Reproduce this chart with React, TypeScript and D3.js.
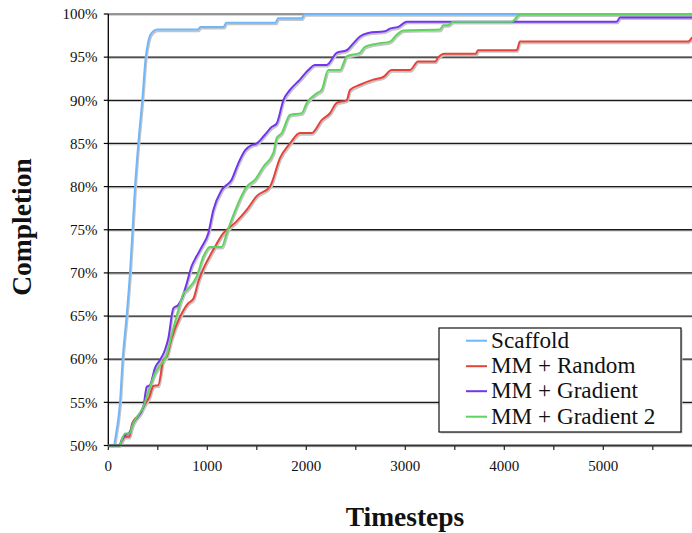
import React from "react";
import * as d3 from "d3";

const seriesNames = ["Scaffold", "MM + Random", "MM + Gradient", "MM + Gradient 2"];
const seriesColors = ["#6fb7fa", "#e5433a", "#7234ef", "#5ed35e"];

const scaffold: [number, number][] = [
  [0, 50], [55, 50], [80, 51.5], [100, 53], [118, 55], [145, 60], [185, 65], [219, 70], [245, 75],
  [270, 80], [303, 85], [343, 90], [378, 95], [400, 96.6], [421, 97.5], [455, 98], [495, 98.2],
  [905, 98.2], [930, 98.5], [1165, 98.5], [1190, 99.0], [1690, 99.0], [1715, 99.5], [1955, 99.5],
  [1980, 99.97], [5900, 99.97],
];

const mmRandom: [number, number][] = [
  [0, 50], [110, 50], [140, 50.6], [169, 51], [212, 51], [242, 52.6], [320, 53.7], [371, 54.8],
  [414, 55.6], [455, 56.9], [505, 57], [556, 59.9], [590, 60.3], [640, 62.4], [724, 64.9], [808, 66.5],
  [859, 67], [909, 69], [960, 70.5], [1027, 72], [1061, 72.7], [1162, 74.6], [1280, 75.8], [1398, 77.3],
  [1499, 78.9], [1633, 80.0], [1734, 83.3], [1835, 85.0], [1936, 86.2], [2054, 86.2], [2155, 87.7],
  [2239, 88.5], [2307, 89.7], [2408, 90.0], [2441, 91.2], [2542, 91.8], [2677, 92.4], [2778, 92.7],
  [2862, 93.5], [3047, 93.5], [3128, 94.5], [3306, 94.5], [3326, 94.9], [3397, 95.4], [3713, 95.4],
  [3734, 95.8], [4125, 95.8], [4158, 96.8], [5856, 96.8], [5896, 97.3],
];

const mmGradient: [number, number][] = [
  [0, 50], [110, 50], [140, 50.8], [169, 51.2], [212, 51.5], [253, 52.6], [354, 54.5], [388, 56.8],
  [421, 57], [472, 59], [522, 59.9], [573, 61.1], [606, 62.4], [657, 65.9], [707, 66.3], [758, 67.5],
  [792, 68.8], [842, 70.8], [876, 71.6], [943, 73.0], [1010, 74.6], [1061, 77.3], [1145, 79.6],
  [1246, 80.8], [1313, 82.7], [1381, 84.2], [1448, 84.8], [1500, 85.0], [1566, 85.8], [1650, 86.9],
  [1700, 87.3], [1768, 90.0], [1835, 91.2], [1936, 92.4], [2020, 93.5], [2088, 94.1], [2206, 94.1],
  [2307, 95.5], [2408, 95.8], [2475, 96.6], [2542, 97.4], [2626, 97.8], [2794, 98.0], [2845, 98.3],
  [2929, 98.5], [3014, 99.1], [5135, 99.1], [5169, 99.6], [5900, 99.6],
];

const mmGradient2: [number, number][] = [
  [0, 50], [108, 50], [169, 51.4], [212, 51.4], [253, 52.6], [354, 54.5], [421, 56.8], [472, 58.4],
  [539, 59.5], [590, 60.5], [640, 62.8], [707, 65.7], [758, 67.6], [792, 68], [893, 69.6], [960, 71.9],
  [1027, 73.0], [1145, 73.0], [1196, 74.6], [1263, 76.7], [1398, 80], [1482, 80.8], [1566, 82.3],
  [1667, 83.9], [1700, 85.6], [1751, 86.2], [1835, 88.3], [1953, 88.5], [2004, 89.7], [2105, 90.8],
  [2155, 91.2], [2222, 93.5], [2340, 93.5], [2408, 95.1], [2542, 95.5], [2593, 96.2], [2744, 96.6],
  [2845, 96.8], [2913, 97.6], [2980, 98.1], [3350, 98.2], [3383, 98.7], [3430, 98.7], [3484, 99.1],
  [4074, 99.1], [4158, 99.95], [5900, 99.95],
];

const allSeries = [scaffold, mmRandom, mmGradient, mmGradient2];
const yTicks = [50, 55, 60, 65, 70, 75, 80, 85, 90, 95, 100];
const xLabelTicks = [0, 1000, 2000, 3000, 4000, 5000];
const xMinorTicks = [0, 500, 1000, 1500, 2000, 2500, 3000, 3500, 4000, 4500, 5000, 5500];

const W = 692;
const H = 533;
const L = 108.3;
const R = 692.4;
const T = 14;
const B = 445.5;

export default function App() {
  const x = d3.scaleLinear().domain([0, 5900]).range([L, R]);
  const y = d3.scaleLinear().domain([50, 100]).range([B, T]);
  const line = d3
    .line<[number, number]>()
    .x((d) => x(d[0]))
    .y((d) => y(d[1]))
    .curve(d3.curveMonotoneX);

  const serif = "'Liberation Serif', 'Times New Roman', serif";
  const legX = 439;
  const legY = 328;
  const legRows = [340.7, 366.2, 391.2, 416.7];

  return (
    <svg
      width={W}
      height={H}
      style={{ position: "absolute", left: 0, top: 0, background: "#fff" }}
      fontFamily={serif}
    >
      <defs>
        <clipPath id="plot">
          <rect x={L} y={T - 4} width={R - L + 2} height={B - T + 6} />
        </clipPath>
      </defs>
      <rect x={0} y={0} width={W} height={H} fill="#fff" />
      {yTicks.map((t) => (
        <g key={t}>
          <line x1={L} x2={W} y1={y(t) + 1.2} y2={y(t) + 1.2} stroke="#c8c8c8" strokeWidth={1.2} />
          <line
            x1={L}
            x2={W}
            y1={y(t)}
            y2={y(t)}
            stroke={t === 100 ? "#777" : "#1a1a1a"}
            strokeWidth={1.3}
          />
        </g>
      ))}
      <line x1={L} x2={L} y1={T} y2={B} stroke="#000" strokeWidth={1.3} />
      {yTicks.map((t) => (
        <line key={"yt" + t} x1={L - 4.5} x2={L} y1={y(t)} y2={y(t)} stroke="#000" strokeWidth={1.2} />
      ))}
      {yTicks.map((t) => (
        <text key={"yl" + t} x={97.5} y={y(t)} dy="0.35em" textAnchor="end" fontSize={15} fill="#111">
          {t}%
        </text>
      ))}
      {xMinorTicks.map((t) => (
        <line key={"xt" + t} x1={x(t)} x2={x(t)} y1={B} y2={B + 4.5} stroke="#222" strokeWidth={1.2} />
      ))}
      {xLabelTicks.map((t) => (
        <text key={"xl" + t} x={x(t)} y={471} textAnchor="middle" fontSize={15} fill="#111">
          {t}
        </text>
      ))}
      <g clipPath="url(#plot)">
        {allSeries.map((s, i) => (
          <path
            key={"sh" + i}
            d={line(s) || ""}
            fill="none"
            stroke="#c4c4c4"
            strokeWidth={2}
            transform="translate(1,1.6)"
          />
        ))}
        {allSeries.map((s, i) => (
          <path key={"s" + i} d={line(s) || ""} fill="none" stroke={seriesColors[i]} strokeWidth={2} />
        ))}
      </g>
      <line x1={L} x2={W} y1={B} y2={B} stroke="#333" strokeWidth={1.3} />
      <rect x={legX + 1.5} y={legY + 1.5} width={242} height={104} fill="#ccc" />
      <rect x={legX} y={legY} width={242} height={104} fill="#fff" stroke="#111" strokeWidth={1.2} />
      {seriesNames.map((n, i) => (
        <g key={"lg" + i}>
          <line x1={466} x2={487} y1={legRows[i]} y2={legRows[i]} stroke={seriesColors[i]} strokeWidth={2} />
          <text x={491} y={legRows[i] + 7} fontSize={23.2} fill="#111">
            {n}
          </text>
        </g>
      ))}
      <text
        transform="translate(31,227) rotate(-90)"
        textAnchor="middle"
        fontSize={27.5}
        fontWeight="bold"
        fill="#111"
      >
        Completion
      </text>
      <text x={405} y={526} textAnchor="middle" fontSize={27.5} fontWeight="bold" fill="#111">
        Timesteps
      </text>
    </svg>
  );
}
